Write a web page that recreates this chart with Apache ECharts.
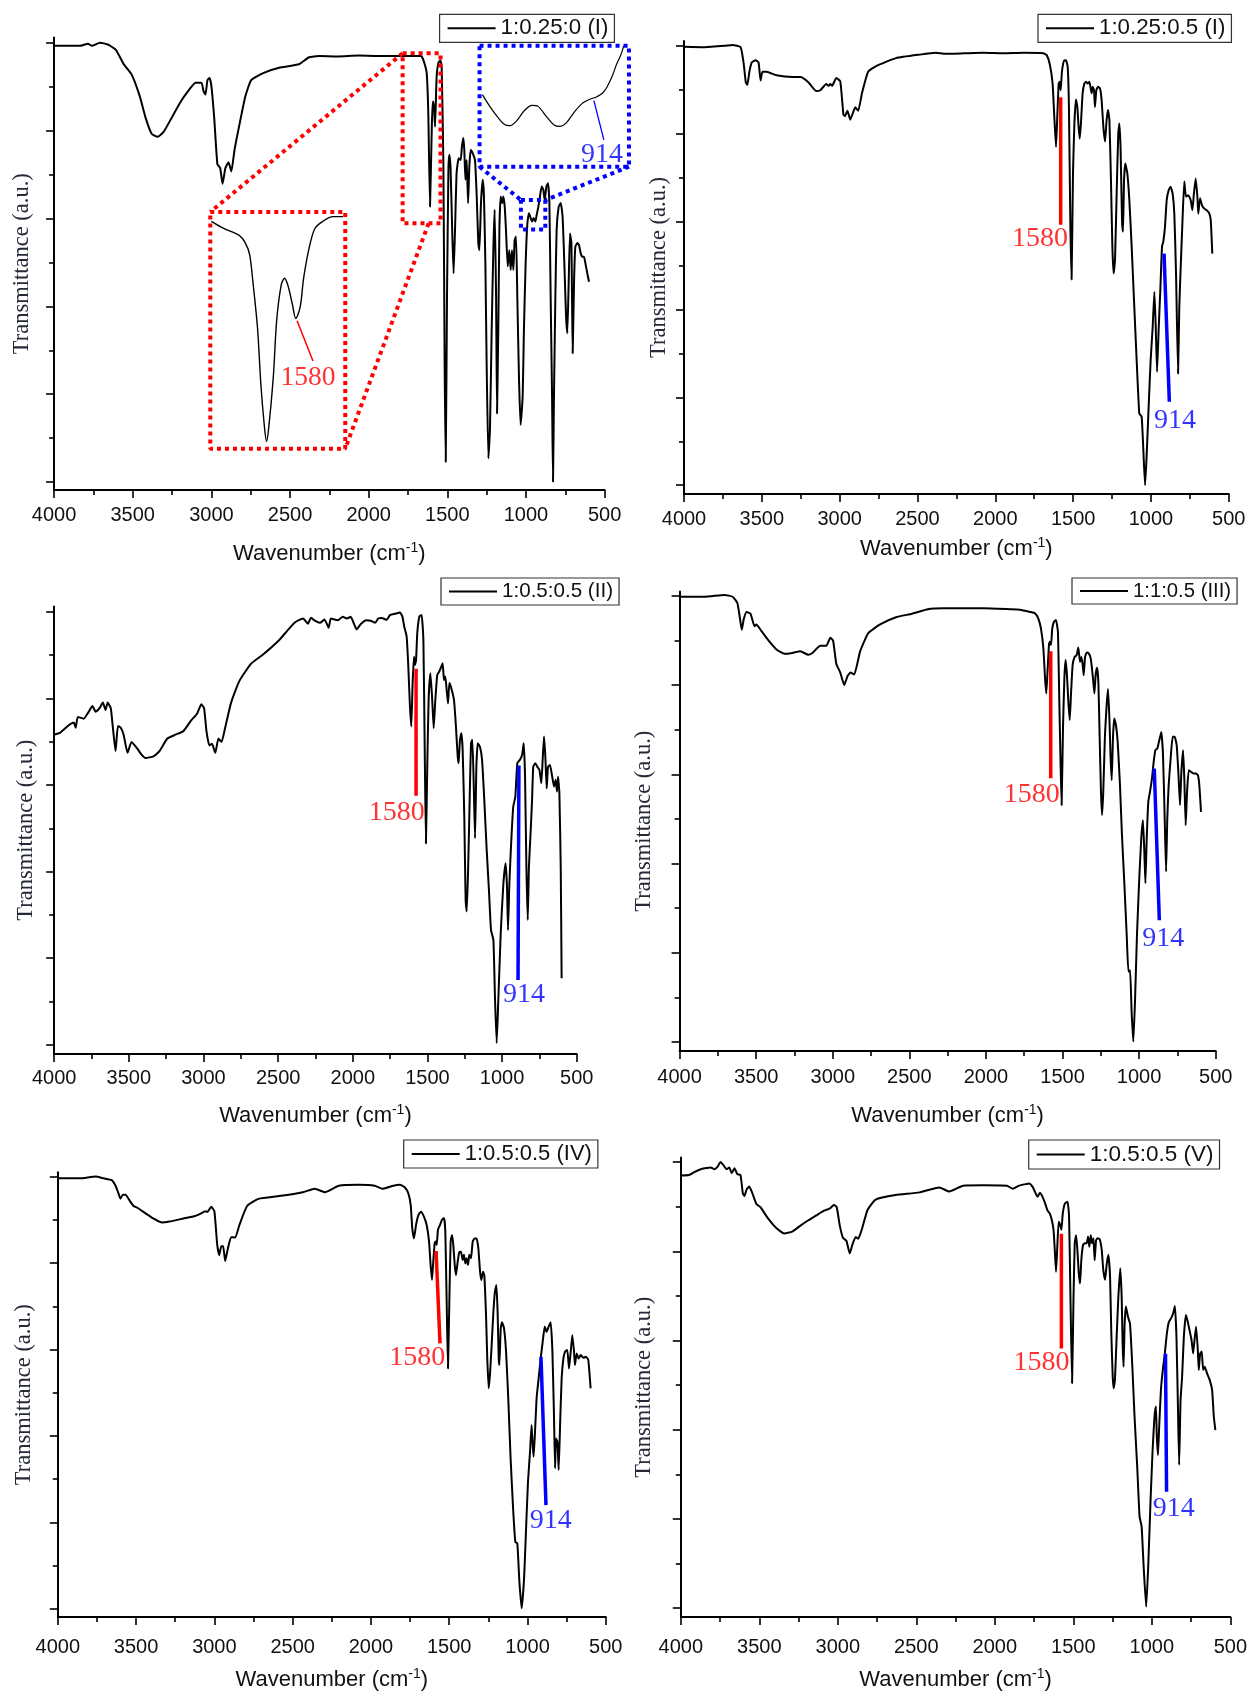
<!DOCTYPE html>
<html><head><meta charset="utf-8">
<script src="https://cdn.jsdelivr.net/npm/echarts@6/dist/echarts.min.js"></script>
<style>html,body{margin:0;padding:0;background:#fff}#c{width:1250px;height:1693px}</style>
</head><body><div id="c"></div>
<script>
// ---------------- DATA ----------------
const seriesNames = ['1:0.25:0 (I)', '1:0.25:0.5 (I)', '1:0.5:0.5 (II)', '1:1:0.5 (III)', '1:0.5:0.5 (IV)', '1:0.5:0.5 (V)'];
const xTickLabels = [4000, 3500, 3000, 2500, 2000, 1500, 1000, 500];

const p1Wn = [4000,3835,3785,3760,3709,3658,3607,3557,3506,3455,3418,3380,3342,3304,3253,3202,3152,3101,3063,3050,3038,3025,3012,3000,2982,2962,2944,2929,2911,2891,2873,2853,2822,2784,2747,2671,2569,2443,2379,2316,2200,2063,1950,1809,1674,1663,1646,1631,1621,1610,1599,1593,1587,1578,1568,1557,1544,1536,1525,1517,1510,1502,1493,1487,1479,1468,1460,1451,1441,1428,1415,1407,1398,1392,1385,1377,1368,1360,1351,1339,1324,1313,1303,1296,1286,1275,1267,1258,1250,1239,1229,1218,1207,1199,1190,1184,1176,1169,1161,1152,1144,1135,1127,1116,1106,1097,1089,1080,1072,1063,1055,1044,1034,1021,1013,1002,991,981,970,961,951,940,932,921,911,900,889,881,870,860,851,843,834,828,822,813,805,792,779,767,756,745,737,728,720,711,703,694,686,673,663,652,643,631,622,610,599];
const p1T = [9.93,9.93,9.98,9.93,10.0,9.96,9.84,9.51,9.27,8.78,8.29,7.93,7.86,7.97,8.29,8.62,8.88,9.09,9.09,8.90,8.82,9.15,9.20,9.02,8.29,7.24,7.15,6.79,7.15,7.28,7.07,7.56,8.13,8.78,9.15,9.31,9.43,9.51,9.67,9.70,9.69,9.71,9.70,9.70,9.70,9.69,9.54,9.31,8.40,6.27,8.02,8.66,8.66,8.09,9.23,9.54,9.60,9.46,7.26,2.70,0.46,4.22,7.11,7.45,7.11,5.59,4.75,5.74,7.03,7.37,7.33,7.64,7.83,7.56,6.88,7.33,6.35,7.18,7.56,7.49,7.33,6.50,5.44,5.28,6.35,6.88,6.50,4.98,2.70,0.54,1.18,3.46,5.36,6.20,4.22,1.56,3.46,5.74,6.50,6.35,6.50,6.27,5.74,4.91,5.28,4.83,5.28,4.83,5.51,5.59,4.22,2.32,1.30,1.94,3.46,4.98,5.89,6.12,6.01,5.93,6.01,5.93,6.08,6.27,6.50,6.73,6.65,6.42,6.73,6.80,6.35,4.22,1.94,0.01,1.94,4.22,5.74,6.27,6.35,6.04,4.98,3.77,3.39,4.60,5.66,5.44,2.93,4.60,5.36,5.44,5.40,5.21,5.13,5.13,4.98,4.75,4.56];

const p2Wn = [4000,3867,3739,3688,3636,3616,3603,3593,3580,3565,3539,3521,3508,3496,3470,3406,3304,3252,3201,3150,3124,3086,3070,3060,3048,3022,2996,2976,2966,2950,2932,2914,2899,2881,2856,2817,2766,2638,2484,2382,2331,2200,2075,1950,1818,1692,1670,1649,1632,1621,1610,1602,1593,1587,1580,1572,1559,1546,1535,1527,1518,1510,1501,1492,1482,1473,1465,1458,1450,1439,1428,1417,1407,1396,1387,1381,1375,1366,1360,1351,1340,1327,1317,1306,1295,1285,1276,1267,1257,1248,1240,1231,1220,1210,1203,1195,1186,1180,1173,1165,1152,1139,1124,1109,1092,1075,1060,1049,1038,1028,1015,1002,989,978,970,961,950,940,929,921,910,899,886,874,861,850,839,826,818,809,799,786,775,760,745,734,724,713,702,696,685,672,659,642,625,616,606];
const p2T = [9.98,9.97,10.0,10.02,9.97,9.58,9.17,9.11,9.41,9.62,9.67,9.62,9.21,9.41,9.41,9.33,9.29,9.29,9.17,8.97,8.99,9.13,9.09,9.13,9.09,9.27,9.19,8.44,8.40,8.52,8.32,8.48,8.60,8.52,8.93,9.41,9.54,9.72,9.80,9.84,9.82,9.83,9.84,9.83,9.84,9.83,9.79,9.56,9.14,8.38,7.70,8.38,9.14,9.18,8.99,9.41,9.66,9.67,9.52,8.61,5.96,4.68,7.10,8.23,8.78,8.61,8.16,7.89,8.23,8.92,9.14,9.18,9.14,9.18,9.03,8.92,9.07,8.99,8.61,8.99,9.07,9.03,8.76,8.16,7.82,8.31,8.54,8.31,6.94,5.43,4.82,5.12,6.72,8.01,8.23,7.63,6.03,5.77,6.94,7.32,7.10,6.49,5.43,4.21,2.85,1.63,1.56,0.80,0.00,0.65,1.78,2.85,3.60,4.40,3.68,2.58,3.60,4.44,5.43,5.54,5.88,6.49,6.72,6.79,6.64,6.18,4.82,2.54,4.06,4.97,5.88,6.91,6.57,6.60,6.49,6.26,6.64,6.98,6.57,6.18,6.53,6.37,6.30,6.26,6.18,6.03,5.27];

const p3Wn = [4000,3963,3909,3869,3856,3842,3802,3776,3744,3722,3696,3674,3656,3642,3621,3608,3589,3573,3554,3535,3509,3482,3442,3415,3389,3335,3295,3242,3188,3135,3082,3042,3015,2996,2980,2961,2943,2921,2900,2879,2855,2815,2761,2681,2601,2494,2441,2388,2334,2300,2280,2254,2220,2190,2161,2147,2100,2067,2040,2014,1974,1947,1910,1880,1850,1830,1806,1773,1751,1717,1684,1668,1655,1639,1628,1617,1608,1599,1590,1583,1576,1568,1554,1539,1527,1518,1510,1501,1492,1480,1469,1458,1447,1434,1420,1407,1398,1389,1380,1371,1362,1353,1340,1322,1309,1297,1291,1282,1273,1264,1253,1244,1237,1228,1217,1208,1199,1190,1181,1172,1163,1148,1134,1119,1103,1088,1074,1058,1047,1036,1025,1009,991,976,967,960,951,938,925,911,898,880,866,855,846,837,828,820,808,799,791,777,764,750,737,728,719,710,701,692,679,666,652,641,632,625,616,607,601];
const p3T = [7.16,7.20,7.36,7.44,7.32,7.57,7.53,7.65,7.82,7.69,7.77,7.90,7.73,7.90,7.77,7.36,6.78,7.36,7.32,7.16,6.74,6.99,6.83,6.70,6.62,6.66,6.78,7.07,7.16,7.24,7.49,7.65,7.86,7.77,7.24,6.91,6.95,6.74,7.07,6.99,7.32,7.90,8.39,8.80,9.01,9.34,9.55,9.75,9.84,9.72,9.86,9.79,9.74,9.82,9.63,9.84,9.80,9.88,9.84,9.88,9.59,9.71,9.80,9.79,9.74,9.84,9.85,9.81,9.92,9.95,9.98,9.89,9.65,9.42,8.73,7.81,7.35,8.35,8.96,8.77,8.88,9.50,9.89,9.92,9.35,6.81,4.65,6.42,7.96,8.58,8.04,7.31,7.96,8.54,8.62,8.73,8.81,8.42,8.50,8.19,7.88,8.35,8.23,7.96,7.35,6.65,6.50,7.04,7.19,6.81,5.27,3.34,3.08,3.96,5.65,6.96,7.04,6.04,4.77,6.42,6.96,6.88,6.58,5.65,4.50,3.58,2.65,2.42,1.04,0.04,1.04,2.58,3.73,4.19,3.65,2.65,3.73,4.73,5.50,5.73,6.50,6.58,6.69,6.96,6.19,4.11,2.88,4.11,4.96,5.65,6.42,6.50,6.42,6.35,6.04,6.58,7.12,6.65,5.92,6.42,6.46,6.23,5.96,6.12,5.85,6.19,5.81,4.11,1.54];

const p4Wn = [4000,3836,3706,3654,3623,3607,3594,3581,3563,3537,3511,3498,3472,3420,3368,3316,3264,3212,3160,3133,3081,3042,3016,2998,2977,2951,2925,2904,2884,2860,2821,2769,2691,2587,2483,2379,2275,2015,1843,1778,1712,1680,1658,1641,1625,1614,1606,1597,1588,1582,1575,1567,1556,1543,1530,1521,1512,1506,1497,1488,1480,1471,1462,1453,1445,1434,1421,1408,1397,1386,1377,1368,1362,1353,1342,1329,1316,1303,1292,1284,1275,1266,1258,1249,1242,1234,1223,1212,1203,1194,1186,1179,1170,1162,1151,1140,1125,1112,1096,1081,1070,1059,1049,1038,1027,1014,999,986,975,966,959,951,940,929,916,905,894,881,868,855,844,833,824,816,807,794,781,768,755,744,733,724,713,705,696,687,676,663,646,629,616,607,596];
const p4T = [9.98,9.98,10.02,9.98,9.84,9.52,9.24,9.48,9.64,9.60,9.32,9.36,9.24,9.00,8.80,8.70,8.72,8.76,8.68,8.72,8.88,8.88,9.06,9.00,8.48,8.28,8.00,8.20,8.28,8.24,8.76,9.16,9.36,9.52,9.60,9.70,9.72,9.72,9.70,9.69,9.64,9.61,9.49,9.27,8.82,8.15,7.81,8.37,8.93,8.97,8.90,9.27,9.42,9.46,9.19,7.63,6.13,5.31,7.03,8.15,8.56,8.22,7.63,7.22,7.78,8.45,8.63,8.67,8.84,8.52,8.63,8.45,8.22,8.63,8.73,8.71,8.60,8.22,7.81,8.22,8.39,8.07,6.88,5.61,5.09,5.61,6.88,7.55,7.91,7.25,6.36,5.87,6.88,7.25,7.10,6.73,5.76,4.64,3.52,2.40,1.58,1.61,0.68,0.01,0.90,2.40,3.67,4.56,4.97,4.27,3.56,4.49,5.39,5.61,5.91,6.28,6.54,6.58,6.77,6.95,6.43,5.01,3.82,5.01,5.76,6.36,6.84,6.84,6.66,6.06,5.31,6.06,6.54,5.91,4.86,5.61,6.09,6.06,6.02,6.02,5.98,5.76,5.16];

const p5Wn = [4000,3860,3758,3707,3656,3631,3613,3600,3585,3567,3542,3516,3491,3440,3389,3338,3287,3198,3122,3084,3058,3045,3020,3000,2982,2969,2956,2944,2931,2913,2893,2867,2842,2791,2715,2587,2435,2358,2294,2205,2078,1976,1925,1857,1815,1783,1761,1746,1736,1725,1712,1697,1680,1661,1644,1629,1619,1610,1602,1593,1587,1580,1572,1559,1546,1533,1525,1516,1508,1499,1491,1482,1474,1465,1457,1446,1436,1425,1414,1406,1397,1389,1380,1372,1361,1350,1338,1325,1314,1303,1295,1284,1276,1265,1257,1248,1240,1229,1218,1208,1199,1191,1184,1180,1171,1163,1150,1137,1123,1108,1091,1078,1065,1052,1037,1022,1010,997,984,974,967,961,952,942,929,916,903,890,878,865,852,841,831,824,818,809,801,792,782,771,760,746,735,724,714,703,697,686,673,661,643,627,612,597];
const p5T = [9.96,9.96,10.0,9.96,9.92,9.79,9.62,9.49,9.58,9.58,9.45,9.32,9.28,9.15,9.03,8.94,8.96,9.03,9.09,9.15,9.20,9.18,9.30,9.20,8.43,8.18,8.39,8.39,8.05,8.35,8.60,8.59,8.86,9.32,9.49,9.55,9.64,9.72,9.64,9.79,9.81,9.79,9.72,9.79,9.81,9.75,9.61,9.34,8.80,8.57,8.88,9.11,9.19,9.07,8.88,8.50,7.96,7.61,8.03,8.46,8.50,8.42,8.77,8.88,9.00,9.04,8.73,7.03,5.56,7.18,8.50,8.65,8.42,7.96,7.72,8.03,8.25,8.26,8.07,8.19,7.99,8.11,7.96,8.19,8.11,8.50,8.57,8.57,8.34,7.80,7.61,7.80,7.72,6.80,5.79,5.10,5.41,6.10,6.87,7.34,7.49,6.87,5.79,5.64,6.49,6.63,6.49,5.95,4.87,3.48,2.25,1.55,1.51,0.63,0.01,0.70,1.78,2.94,3.63,4.25,3.79,3.52,4.10,4.87,5.33,5.79,6.18,6.53,6.41,6.53,6.63,5.95,4.48,3.25,3.94,3.87,3.21,4.25,5.33,5.79,5.95,5.99,5.56,5.95,6.33,5.95,5.64,5.91,5.79,5.87,5.81,5.83,5.76,5.10];

const p6Wn = [4000,3949,3911,3873,3848,3810,3785,3767,3747,3726,3709,3691,3676,3658,3640,3620,3605,3595,3580,3564,3544,3519,3493,3443,3392,3342,3291,3240,3190,3139,3088,3050,3025,3007,2987,2967,2946,2936,2924,2906,2886,2870,2848,2810,2759,2632,2480,2354,2291,2202,2075,1923,1885,1847,1797,1781,1760,1745,1728,1713,1696,1679,1665,1650,1637,1626,1618,1610,1601,1593,1584,1576,1567,1554,1537,1527,1518,1508,1499,1491,1482,1474,1465,1457,1449,1438,1427,1415,1406,1398,1389,1381,1372,1364,1355,1345,1332,1319,1309,1298,1288,1277,1266,1258,1249,1243,1235,1224,1213,1201,1192,1186,1180,1173,1165,1152,1139,1124,1110,1093,1078,1065,1052,1036,1023,1008,995,983,974,968,961,953,942,930,917,904,891,877,864,853,843,834,826,817,807,796,783,771,758,747,737,728,718,707,701,692,682,673,663,648,631,616,605,595];
const p6T = [9.70,9.71,9.78,9.84,9.86,9.88,9.84,9.89,10.0,9.92,9.84,9.88,9.75,9.86,9.73,9.71,9.30,9.24,9.39,9.45,9.30,9.06,8.99,8.73,8.52,8.40,8.44,8.57,8.69,8.80,8.91,8.96,9.04,8.99,8.57,8.30,8.24,8.11,7.95,8.16,8.32,8.28,8.48,8.93,9.16,9.26,9.32,9.43,9.34,9.47,9.48,9.47,9.40,9.47,9.51,9.52,9.45,9.34,9.22,9.31,9.22,9.07,8.92,8.85,8.70,8.48,8.03,7.54,8.18,8.66,8.59,8.48,8.85,9.07,9.11,8.78,6.91,5.04,6.91,8.18,8.36,8.03,7.50,7.28,7.80,8.14,8.18,8.18,8.33,8.10,8.36,8.18,8.29,7.80,8.25,8.29,8.27,8.03,7.58,7.36,7.69,7.92,7.43,6.16,5.19,4.93,5.11,6.08,6.98,7.62,6.98,5.93,5.41,6.38,6.76,6.53,6.38,5.41,4.29,3.17,2.05,1.83,0.93,0.03,0.93,2.42,3.54,4.29,4.52,3.84,3.43,4.07,4.89,5.34,5.71,6.16,6.42,6.50,6.61,6.77,6.08,4.59,3.21,4.66,5.19,6.08,6.57,6.42,6.20,6.01,5.71,6.01,6.31,5.79,5.34,5.71,5.75,5.34,5.41,5.26,5.11,4.89,4.29,3.99];

// Insets of panel 1 (zoomed views, own scales)
const redInsetWn = [1659,1648,1634,1629,1625,1622,1618,1615,1612,1610,1608,1604,1601,1597,1594,1591,1587,1584,1580,1577,1572,1567,1560,1551,1542];
const redInsetT = [0.96,0.93,0.90,0.87,0.82,0.70,0.51,0.27,0.10,0.03,0.09,0.30,0.54,0.69,0.72,0.69,0.61,0.55,0.60,0.72,0.85,0.93,0.96,0.98,0.98];
const blueInsetWn = [1036.8,1027.8,1018.7,1011.9,1006.0,998.3,989.2,980.2,973.4,964.3,955.2,948.4,941.6,932.6,923.5,914.4,907.6,900.0,895.0,889.0,884.0,879.0,876.0];
const blueInsetT = [0.596,0.493,0.404,0.351,0.339,0.375,0.463,0.507,0.499,0.419,0.345,0.333,0.360,0.448,0.522,0.558,0.575,0.610,0.660,0.750,0.850,0.930,1.0];

// Peak-marker annotations for panels 2-6: [wnTop, tTop, wnBottom, tBottom, wnText, tText]
const mark1580 = [null,
  [1580,8.83,1580,5.93,1713,5.62],
  [1576,8.68,1576,5.75,1706,5.35],
  [1577,8.76,1577,5.91,1701,5.55],
  [1584,8.28,1559,6.14,1704,5.80],
  [1576,8.39,1576,5.82,1703,5.50]];
const mark914 = [null,
  [916,5.27,882,1.90,846,1.48],
  [887,6.45,893,1.50,853,1.15],
  [901,6.13,868,2.73,842,2.32],
  [914,5.83,882,2.40,852,2.05],
  [913,5.70,906,2.61,860,2.24]];

// Panel-1 zoom boxes in main data space: [wnLeft, wnRight, tTop, tBottom]
const redSmallBox = [1784, 1543, 9.76, 5.89];
const redBigBox = [3007, 2149, 6.15, 0.76];
const blueSmallBox = [1032, 877, 6.42, 5.75];
const blueBigBox = [1295, 345, 9.93, 7.18];
// inset marker lines (inset coords): [wnA,tA,wnB,tB,wnText,tText]
const redInsetMark = [1582.8,0.54,1568.7,0.37,1573,0.30];
const blueInsetMark = [909.9,0.546,898.6,0.221,900.8,0.103];

// ---------------- LAYOUT ----------------
const layouts = [
  {left:54.1, top:37.5, width:550.5, height:452.5, yMin:-0.18, yMax:10.12, yGap:21, xGap:51, lbM:15, lgL:439.6, lgT:14.3, lgF:22.3},
  {left:684, top:41, width:544.8, height:453, yMin:-0.2, yMax:10.11, yGap:13, xGap:42, lbM:15, lgL:1038, lgT:14.3, lgF:22.3},
  {left:54.2, top:606.4, width:522.5, height:447.6, yMin:-0.21, yMax:10.12, yGap:17, xGap:49, lbM:14, lgL:441, lgT:578, lgF:20.6},
  {left:679.6, top:591.4, width:536.1, height:459.6, yMin:-0.2, yMax:10.1, yGap:24, xGap:52, lbM:16, lgL:1072, lgT:578, lgF:20.3},
  {left:57.8, top:1172.3, width:548, height:444.7, yMin:-0.19, yMax:10.1, yGap:22, xGap:50, lbM:20, lgL:403.7, lgT:1140, lgF:22},
  {left:680.8, top:1157.6, width:550.8, height:459.4, yMin:-0.2, yMax:10.1, yGap:25, xGap:50, lbM:20, lgL:1028.7, lgT:1140, lgF:22.5}
];
const wnArrays = [p1Wn,p2Wn,p3Wn,p4Wn,p5Wn,p6Wn];
const tArrays = [p1T,p2T,p3T,p4T,p5T,p6T];

const SANS = '"Liberation Sans", Arial, sans-serif';
const SERIF = '"Liberation Serif", "Times New Roman", serif';
const RED = '#ff0000', BLUE = '#0000ff';

function zip(a,b){const n=Math.min(a.length,b.length);const r=[];for(let i=0;i<n;i++)r.push([a[i],b[i]]);return r;}
function boxPath(b){return [[b[0],b[2]],[b[1],b[2]],[b[1],b[3]],[b[0],b[3]],[b[0],b[2]]];}

const grids=[], xAxes=[], yAxes=[], series=[], legends=[];
const tickStyle = {color:'#000', width:1.6};

layouts.forEach((L,i)=>{
  grids.push({left:L.left, top:L.top, width:L.width, height:L.height});
  xAxes.push({gridIndex:i, type:'value', min:500, max:4000, interval:500, inverse:true,
    axisLine:{onZero:false, lineStyle:{color:'#000', width:2}},
    axisTick:{length:8, lineStyle:tickStyle},
    minorTick:{show:true, splitNumber:2, length:5, lineStyle:tickStyle},
    axisLabel:{fontFamily:SANS, fontSize:20, color:'#111', margin:L.lbM, showMinLabel:true, showMaxLabel:true,
      formatter:(v)=>{const s=String(v); return xTickLabels.indexOf(v)>=0 ? s : s;}},
    splitLine:{show:false}, minorSplitLine:{show:false},
    name:'{a|Wavenumber (cm}{s|-1}{a|)}', nameLocation:'middle', nameGap:L.xGap,
    nameTextStyle:{rich:{a:{fontFamily:SANS, fontSize:22, color:'#111', lineHeight:26},
                         s:{fontFamily:SANS, fontSize:14, color:'#111', lineHeight:26, verticalAlign:'top'}}}
  });
  yAxes.push({gridIndex:i, type:'value', min:L.yMin, max:L.yMax, position:'left',
    axisLine:{onZero:false, lineStyle:{color:'#000', width:2}},
    axisTick:{length:8, customValues:[0,2,4,6,8,10], lineStyle:tickStyle},
    axisLabel:{show:false}, splitLine:{show:false},
    name:'Transmittance (a.u.)', nameLocation:'middle', nameGap:L.yGap, nameRotate:90,
    nameTextStyle:{fontFamily:SERIF, fontSize:22.5, color:'#262a38'}
  });
  yAxes.push({gridIndex:i, type:'value', min:L.yMin, max:L.yMax, position:'left', offset:0,
    axisLine:{show:false}, axisTick:{length:5, customValues:[1,3,5,7,9], lineStyle:tickStyle},
    axisLabel:{show:false}, splitLine:{show:false}
  });
  legends.push({left:L.lgL, top:L.lgT, data:[seriesNames[i]], icon:'rect', itemWidth:48, itemHeight:2,
    borderColor:'#333', borderWidth:1.2, borderRadius:0, padding:[3,6,3,8], selectedMode:false,
    textStyle:{fontFamily:SANS, fontSize:L.lgF, color:'#111', lineHeight:20}});
  series.push({type:'line', name:seriesNames[i], xAxisIndex:i, yAxisIndex:2*i,
    data:zip(wnArrays[i], tArrays[i]), showSymbol:false, symbol:'none', smooth:0.15,
    lineStyle:{color:'#000', width:2}, itemStyle:{color:'#000'}, z:3, silent:true});
  if (i>0){
    const m=mark1580[i], n=mark914[i];
    series.push({type:'line', xAxisIndex:i, yAxisIndex:2*i, data:[[m[0],m[1]],[m[2],m[3]]], symbol:'none',
      lineStyle:{color:RED, width:3.5}, z:4, silent:true});
    series.push({type:'line', xAxisIndex:i, yAxisIndex:2*i, data:[[n[0],n[1]],[n[2],n[3]]], symbol:'none',
      lineStyle:{color:BLUE, width:3.5}, z:4, silent:true});
    series.push({type:'scatter', xAxisIndex:i, yAxisIndex:2*i, data:[[m[4],m[5]]], symbolSize:1,
      itemStyle:{color:'rgba(0,0,0,0)'}, label:{show:true, position:'inside', formatter:'1580', fontFamily:SERIF, fontSize:28, color:RED}, z:5, silent:true});
    series.push({type:'scatter', xAxisIndex:i, yAxisIndex:2*i, data:[[n[4],n[5]]], symbolSize:1,
      itemStyle:{color:'rgba(0,0,0,0)'}, label:{show:true, position:'inside', formatter:'914', fontFamily:SERIF, fontSize:28, color:BLUE}, z:5, silent:true});
  }
});

// ---- Panel 1 zoom boxes & insets ----
const L0 = layouts[0];
function px(wn){return L0.left + (4000-wn)/3500*L0.width;}
function py(t){return L0.top + (L0.yMax-t)/(L0.yMax-L0.yMin)*L0.height;}

// overlay grid (index 6) with the same scale as panel 1 but extended to the right, for the dotted zoom frames
const OVER_MIN = 250;
grids.push({left:px(4000), top:L0.top, width:px(OVER_MIN)-px(4000), height:L0.height});
xAxes.push({gridIndex:6, type:'value', min:OVER_MIN, max:4000, inverse:true, show:false});
yAxes.push({gridIndex:6, type:'value', min:L0.yMin, max:L0.yMax, show:false});

function dotted(color, data){
  return {type:'line', xAxisIndex:6, yAxisIndex:12, data:data, symbol:'none', clip:false,
    lineStyle:{color:color, width:4, type:[4,4], cap:'butt'}, z:6, silent:true};
}
series.push(dotted(RED, boxPath(redSmallBox)));
series.push(dotted(RED, boxPath(redBigBox)));
series.push(dotted(RED, [[redSmallBox[0],redSmallBox[2]],[redBigBox[0],redBigBox[2]]]));
series.push(dotted(RED, [[1619,redSmallBox[3]],[redBigBox[1],redBigBox[3]]]));
series.push(dotted(BLUE, boxPath(blueSmallBox)));
series.push(dotted(BLUE, boxPath(blueBigBox)));
series.push(dotted(BLUE, [[blueBigBox[0],blueBigBox[3]],[blueSmallBox[0],blueSmallBox[2]]]));
series.push(dotted(BLUE, [[blueBigBox[1],blueBigBox[3]],[blueSmallBox[1],blueSmallBox[2]]]));

function insetGrid(b){
  return {left:px(b[0]), top:py(b[2]), width:px(b[1])-px(b[0]), height:py(b[3])-py(b[2])};
}
grids.push(insetGrid(redBigBox));   // grid 7
grids.push(insetGrid(blueBigBox));  // grid 8
xAxes.push({gridIndex:7, type:'value', min:1540, max:1660, inverse:true, show:false});
xAxes.push({gridIndex:8, type:'value', min:870, max:1040, inverse:true, show:false});
yAxes.push({gridIndex:7, type:'value', min:0, max:1, show:false});
yAxes.push({gridIndex:8, type:'value', min:0, max:1, show:false});
series.push({type:'line', xAxisIndex:7, yAxisIndex:13, data:zip(redInsetWn, redInsetT), symbol:'none', smooth:0.3,
  lineStyle:{color:'#000', width:1.4}, z:4, silent:true});
series.push({type:'line', xAxisIndex:8, yAxisIndex:14, data:zip(blueInsetWn, blueInsetT), symbol:'none', smooth:0.3,
  lineStyle:{color:'#000', width:1.2}, z:4, silent:true});
series.push({type:'line', xAxisIndex:7, yAxisIndex:13, data:[[redInsetMark[0],redInsetMark[1]],[redInsetMark[2],redInsetMark[3]]], symbol:'none',
  lineStyle:{color:RED, width:1.5}, z:4, silent:true});
series.push({type:'line', xAxisIndex:8, yAxisIndex:14, data:[[blueInsetMark[0],blueInsetMark[1]],[blueInsetMark[2],blueInsetMark[3]]], symbol:'none',
  lineStyle:{color:BLUE, width:1.3}, z:4, silent:true});
series.push({type:'scatter', xAxisIndex:7, yAxisIndex:13, data:[[redInsetMark[4],redInsetMark[5]]], symbolSize:1,
  itemStyle:{color:'rgba(0,0,0,0)'}, label:{show:true, position:'inside', formatter:'1580', fontFamily:SERIF, fontSize:27.5, color:RED}, z:5, silent:true});
series.push({type:'scatter', xAxisIndex:8, yAxisIndex:14, data:[[blueInsetMark[4],blueInsetMark[5]]], symbolSize:1,
  itemStyle:{color:'rgba(0,0,0,0)'}, label:{show:true, position:'inside', formatter:'914', fontFamily:SERIF, fontSize:28, color:BLUE}, z:5, silent:true});

const chart = echarts.init(document.getElementById('c'), null, {renderer:'canvas'});
chart.setOption({
  backgroundColor:'#fff', animation:false,
  grid:grids, xAxis:xAxes, yAxis:yAxes, legend:legends, series:series
});
</script></body></html>
